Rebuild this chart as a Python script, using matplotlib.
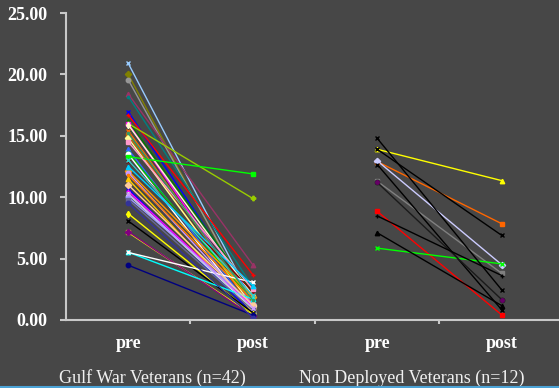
import numpy as np
import matplotlib
matplotlib.use("Agg")
import matplotlib.pyplot as plt
from matplotlib.lines import Line2D

# Gulf War veterans (n=42): score before and after treatment
gw_pre = [20.9, 20.0, 19.55, 18.4, 18.2, 16.96, 16.7, 16.2, 16.0, 16.0,
          15.9, 15.4, 15.05, 14.8, 13.9, 13.6, 13.5, 13.3, 12.96, 12.14,
          12.0, 11.46, 11.8, 10.7, 10.5, 10.24, 10.0, 9.8, 8.66, 8.06,
          7.13, 7.2, 5.52, 5.5, 4.46, 14.5, 13.0, 11.0, 9.5, 12.5,
          15.2, 10.3]
gw_post = [1.5, 1.0, 1.3, 4.5, 2.7, 1.8, 3.7, 2.2, 9.9, 1.25,
           2.0, 1.4, 0.9, 1.1, 0.8, 1.5, 0.6, 11.9, 2.3, 1.9,
           1.0, 0.7, 1.6, 0.5, 1.1, 0.9, 1.3, 0.8, 0.5, 0.6,
           0.4, 0.3, 1.7, 3.07, 0.4, 2.5, 2.0, 1.2, 0.2, 2.8,
           1.6, 1.0]
gw_colors = ["#99CCFF", "#808000", "#969696", "#993366", "#008080", "#0000FF",
             "#FF0000", "#008000", "#99CC00", "#FF00FF", "#FFFFCC", "#FF6600",
             "#CC6600", "#FFFF99", "#3366FF", "#00CC00", "#FFFFFF", "#00FF00",
             "#800000", "#FF9900", "#CC99FF", "#FFCC00", "#FF8000", "#0000FF",
             "#FF00FF", "#CCFFCC", "#9999FF", "#666699", "#FFFF00", "#000000",
             "#FFFF00", "#800080", "#00FFFF", "#FFFFFF", "#000080", "#FF99CC",
             "#33CCCC", "#FFCC99", "#333399", "#00CCFF", "#339966", "#CC99FF"]

# Non deployed veterans (n=12)
nd_pre = [13.9, 12.9, 12.96, 11.3, 8.85, 5.85, 14.79, 13.9, 12.66, 11.2, 8.47, 7.1]
nd_post = [11.35, 7.84, 4.5, 3.8, 0.41, 4.57, 2.45, 6.89, 0.82, 1.66, 3.62, 1.17]
nd_colors = ["#FFFF00", "#FF6600", "#CCCCFF", "#808080", "#FF0000", "#00FF00",
             "#000000", "#000000", "#000000", "#1a1a1a", "#000000", "#000000"]

categories = ["pre", "post", "pre", "post"]
groups = ["Gulf War Veterans (n=42)", "Non Deployed Veterans (n=12)"]

markers = ["x", "D", "o", "^", ".", "x", "+", "^", "P", "s", "d", "x", "s", "D",
           "^", "x", "o", "s"]

bg = "#474747"
axis_col = "#C8C8C8"
serif = ["Liberation Serif", "DejaVu Serif"]

fig = plt.figure(figsize=(5.59, 3.88), dpi=100, facecolor=bg)
ax = fig.add_axes([65.5 / 559, 1 - 320 / 388, 498.5 / 559, 307 / 388])
ax.set_facecolor(bg)

for i, (a, b) in enumerate(zip(gw_pre, gw_post)):
    ax.plot([0, 1], [a, b], color=gw_colors[i], lw=1.0,
            marker=markers[i % len(markers)], ms=3.2, mew=1.0, zorder=2)

nd_markers = ["^", "s", "D", "s", "s", "x", "x", "x", "x", "o", "+", "^"]
for i, (a, b) in enumerate(zip(nd_pre, nd_post)):
    ax.plot([2, 3], [a, b], color=nd_colors[i], lw=1.0,
            marker=nd_markers[i], ms=3.2, mew=1.0, zorder=2)
# purple markers on one of the dark lines
ax.plot([2, 3], [nd_pre[9], nd_post[9]], ls="none", marker="o", ms=2.5,
        color="#660066", zorder=3)

ax.set_xlim(-0.504, 3.5)
ax.set_ylim(0, 25)
ax.set_yticks(np.arange(0, 26, 5))
ax.yaxis.set_major_formatter(plt.FuncFormatter(lambda v, p: f"{v:.2f}"))

# category boundaries carry the tick marks, labels sit in the middle
ax.set_xticks([0.5, 1.5, 2.5])
ax.set_xticklabels([])
for x, lab in enumerate(categories):
    ax.text(x, -0.075, lab, transform=ax.get_xaxis_transform(), ha="center",
            va="center", color="white", fontsize=13, fontweight="bold",
            family=serif)

for cx, lab in zip([0.19, 2.28], groups):
    ax.text(cx, -0.19, lab, transform=ax.get_xaxis_transform(), ha="center",
            va="center", color="#F0F0F0", fontsize=13, family=serif)

for side in ["top", "right"]:
    ax.spines[side].set_visible(False)
for side in ["left", "bottom"]:
    ax.spines[side].set_color(axis_col)
    ax.spines[side].set_linewidth(1.5)

ax.tick_params(axis="y", direction="out", length=4, width=1.5,
               color=axis_col, pad=9, labelcolor="white")
ax.tick_params(axis="x", direction="out", length=3, width=1.5, color=axis_col)
for t in ax.get_yticklabels():
    t.set_fontfamily(serif)
    t.set_fontweight("bold")
    t.set_fontsize(13)

# thin border strip along the bottom edge
fig.add_artist(Line2D([0, 1], [0.002, 0.002], transform=fig.transFigure,
                      color="#4BA3D6", lw=1.5))

fig.savefig("out.png", dpi=100, facecolor=bg)
